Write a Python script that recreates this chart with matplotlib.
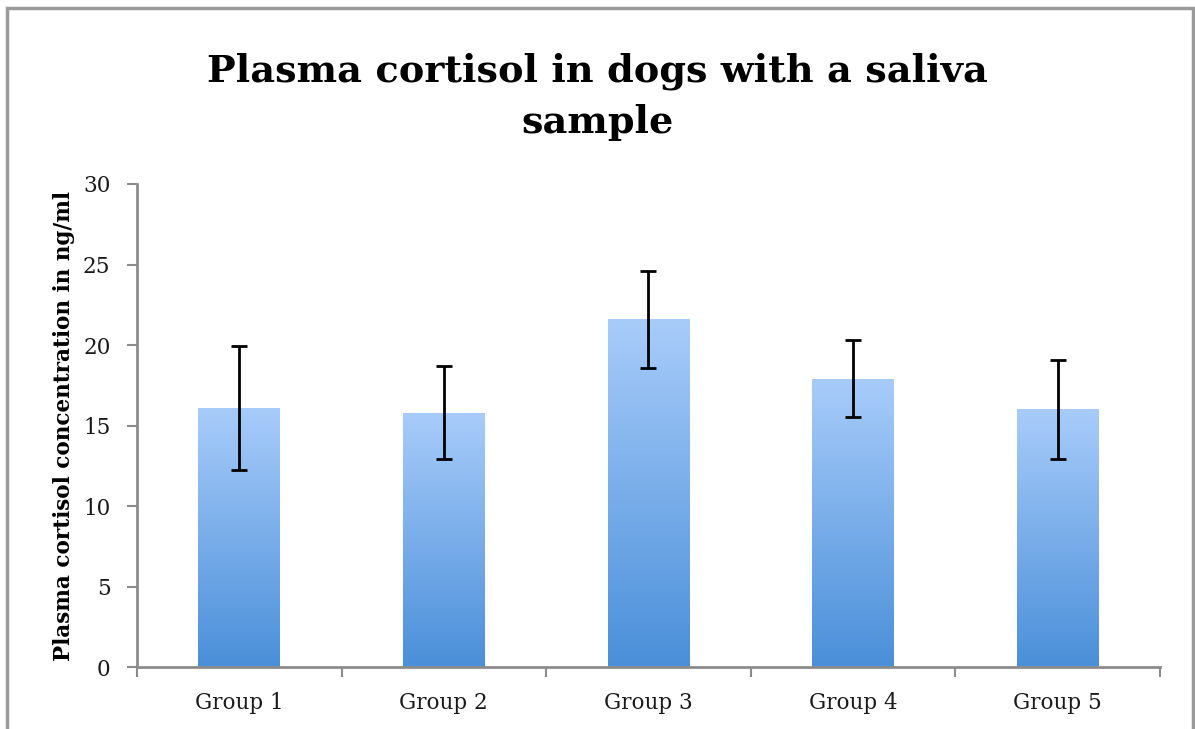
import numpy as np
import matplotlib
matplotlib.use("Agg")
import matplotlib.pyplot as plt
from matplotlib.patches import Rectangle

groups = ["Group 1", "Group 2", "Group 3", "Group 4", "Group 5"]
cortisol = [16.1, 15.8, 21.6, 17.9, 16.0]
error = [3.85, 2.9, 3.0, 2.4, 3.05]
title_lines = ["Plasma cortisol in dogs with a saliva", "sample"]

plt.rcParams['font.family'] = ['DejaVu Serif', 'Liberation Serif']

fig = plt.figure(figsize=(11.95, 7.29), dpi=100)
ax = fig.add_axes([0.1146, 0.085, 0.8561, 0.6626])

x = np.arange(len(groups))
bars = ax.bar(x, cortisol, width=0.4, facecolor='none', edgecolor='none', zorder=2)

# vertical gradient inside each bar: light blue at the top, darker at the bottom
grad = np.linspace(0, 1, 256).reshape(-1, 1)
cmap = matplotlib.colors.LinearSegmentedColormap.from_list("g", ["#4a8fd9", "#a8ccfa"])
for b in bars:
    im = ax.imshow(grad, cmap=cmap, aspect='auto', origin='lower',
                   extent=[b.get_x(), b.get_x() + b.get_width(), 0, b.get_height()],
                   zorder=2)
    im.set_clip_path(b)

ax.errorbar(x, cortisol, yerr=error, fmt='none', ecolor='black', elinewidth=2,
            capsize=5.8, capthick=2, zorder=3)

ax.set_xlim(-0.5, 4.5)
ax.set_ylim(0, 30)
ax.set_yticks(range(0, 31, 5))
ax.set_xticks(x)
ax.set_xticklabels(groups)
ax.set_xticks(np.arange(-0.5, 5, 1), minor=True)
ax.tick_params(axis='x', which='major', length=0, pad=18, labelsize=15.5, colors='#1a1a1a')
ax.tick_params(axis='x', which='minor', length=7, width=1.5, color='#8c8c8c', direction='out')
ax.tick_params(axis='y', length=7, width=1.5, color='#8c8c8c', pad=12, labelsize=15.5,
               labelcolor='#1a1a1a')

for s in ['top', 'right']:
    ax.spines[s].set_visible(False)
for s in ['left', 'bottom']:
    ax.spines[s].set_color('#8c8c8c')
    ax.spines[s].set_linewidth(2)

ax.set_ylabel("Plasma cortisol concentration in ng/ml", fontsize=15.5, fontweight='bold', labelpad=6)

# title as two lines placed on their baselines
fig.text(0.5, 1 - 82 / 729, title_lines[0], ha='center', va='baseline', fontsize=27.5, fontweight='bold')
fig.text(0.5, 1 - 133 / 729, title_lines[1], ha='center', va='baseline', fontsize=27.5, fontweight='bold')

fig.patches.append(Rectangle((7 / 1195, -0.02), 1186 / 1195, 1 - 8 / 729 + 0.02,
                             transform=fig.transFigure, fill=False, edgecolor='#9a9a9a',
                             linewidth=2.5))

fig.savefig("out.png", dpi=100)
